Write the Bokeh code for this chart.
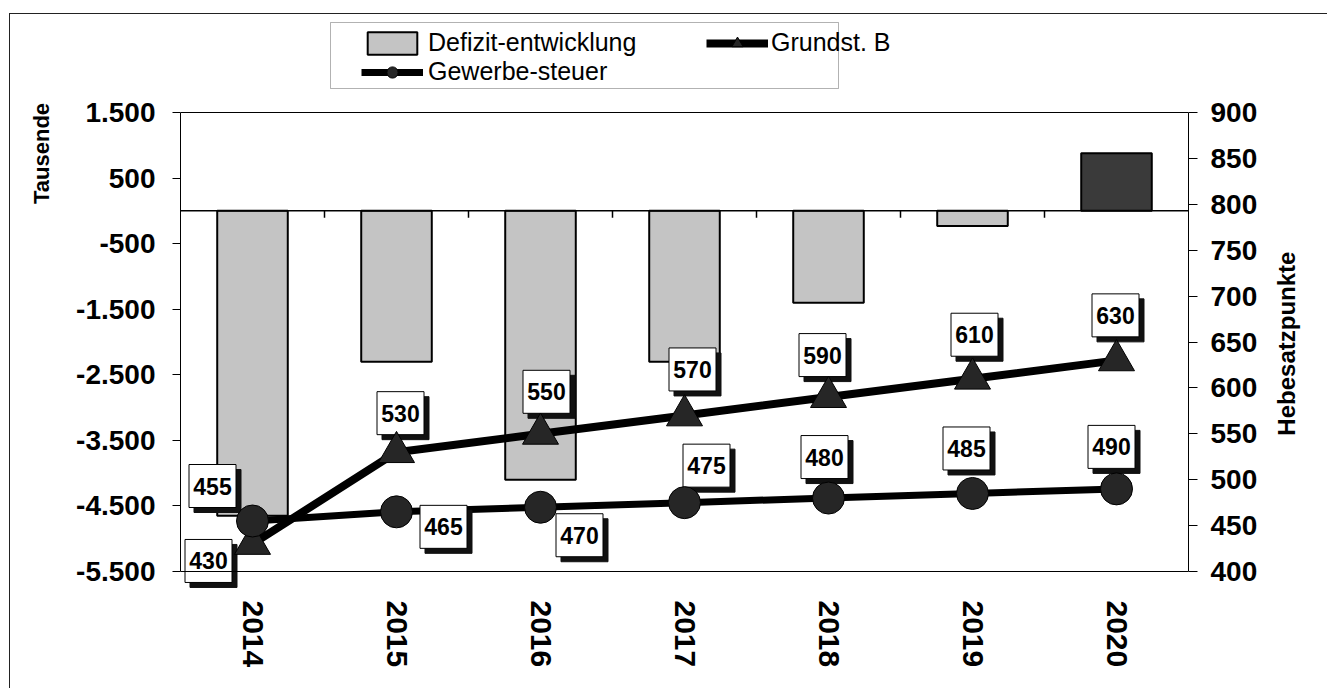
import math
from bokeh.plotting import figure
from bokeh.models import (Range1d, LinearAxis, FixedTicker, ColumnDataSource, LabelSet,
                          Legend, LegendItem, BoxAnnotation, Span)
from bokeh.core.properties import value
from bokeh.embed import file_html
from bokeh.resources import INLINE

# ---------------- data ----------------
years = ["2014", "2015", "2016", "2017", "2018", "2019", "2020"]
defizit = [-4650, -2300, -4100, -2300, -1400, -230, 880]
gewerbesteuer = [455, 465, 470, 475, 480, 485, 490]
grundsteuer_b = [430, 530, 550, 570, 590, 610, 630]
left_ticks = [-5500, -4500, -3500, -2500, -1500, -500, 500, 1500]
right_ticks = [400, 450, 500, 550, 600, 650, 700, 750, 800, 850, 900]

# ---------------- styles / geometry (page pixels) ----------------
FONT = "Liberation Sans"
OX, OY = 10, 14                 # canvas origin on page (after outer frame)
W, H = 1318, 675
FL, FR = 180, 1188              # plot area left/right (axes)
PT, PB = 112, 571               # plot area top/bottom
FTOP, FBOT = 16, 592            # drawing frame top/bottom
LMIN, LMAX = -5500, 1500
RMIN, RMAX = 400, 900
N = len(years)
PX_X = (FR - FL) / N
PX_L = (PB - PT) / (LMAX - LMIN)
PX_R = (PB - PT) / (RMAX - RMIN)

def px_x(page_x):
    return (page_x - FL) / PX_X

def py_left(page_y):
    return LMAX - (page_y - PT) / PX_L

def py_right(page_y):
    return RMAX - (page_y - PT) / PX_R

# label offsets in pixels (x right, y down)
gew_dx = [-40, 47, 39, 22, -4, -6, -5]
gew_dy = [-35, 15, 28, -37, -41, -45, -42]
grd_dx = [-44, 4, 6, 8, -6, 2, -1]
grd_dy = [17, -39, -42, -46, -42, -44, -45]
BOX_W, BOX_H = 47, 43
SHADOW = 5

def de_fmt(v):
    s = f"{abs(v):,}".replace(",", ".")
    return ("-" if v < 0 else "") + s

xs = [i + 0.5 for i in range(N)]

mb_left = FL - OX
mb_top = FTOP - OY
mb_right = W - mb_left - (FR - FL)
mb_bottom = H - mb_top - (FBOT - FTOP)

p = figure(width=W, height=H, x_range=Range1d(0, N),
           y_range=Range1d(py_left(FBOT), py_left(FTOP)),
           output_backend="svg", toolbar_location=None,
           min_border_left=mb_left, min_border_right=mb_right,
           min_border_top=mb_top, min_border_bottom=mb_bottom,
           background_fill_color="white", border_fill_color="white",
           outline_line_color=None)
p.title.visible = False
p.margin = (OY - 1, 0, 0, OX - 1)
p.styles = {"border-top": "1px solid #222222", "border-left": "1px solid #222222"}
p.extra_y_ranges = {"right": Range1d(py_right(FBOT), py_right(FTOP))}
p.xgrid.visible = False
p.ygrid.visible = False

def style_axis(ax, size):
    ax.major_label_text_font = FONT
    ax.major_label_text_font_size = size
    ax.major_label_text_font_style = "bold"
    ax.major_label_text_color = "black"
    ax.minor_tick_out = 0
    ax.minor_tick_in = 0
    ax.major_tick_in = 0

# left axis
ya = p.yaxis[0]
ya.ticker = FixedTicker(ticks=left_ticks)
ya.major_label_overrides = {t: de_fmt(t) for t in left_ticks}
style_axis(ya, "28px")
ya.major_tick_out = 8
ya.major_label_standoff = 17
ya.axis_line_color = "black"
ya.bounds = (LMIN, LMAX)

# left title as outer axis label
ta = LinearAxis(ticker=FixedTicker(ticks=[875]), major_label_overrides={875: "Tausende"})
style_axis(ta, "22px")
ta.major_label_orientation = "vertical"
ta.major_tick_out = 0
ta.major_label_standoff = 19
ta.axis_line_color = None
p.add_layout(ta, "left")

# right axis
ra = LinearAxis(y_range_name="right", ticker=FixedTicker(ticks=right_ticks))
style_axis(ra, "28px")
ra.major_tick_out = 9
ra.major_label_standoff = 13
ra.bounds = (RMIN, RMAX)
p.add_layout(ra, "right")

# right title as outer axis label (text starts at the tick, reads upward)
hb = LinearAxis(y_range_name="right", ticker=FixedTicker(ticks=[548]),
                major_label_overrides={548: "Hebesatzpunkte"})
style_axis(hb, "24px")
hb.major_label_orientation = math.pi / 2
hb.major_tick_out = 0
hb.major_label_standoff = 26
hb.axis_line_color = None
p.add_layout(hb, "right")

# bottom axis (years)
xa = p.xaxis[0]
xa.ticker = FixedTicker(ticks=xs)
xa.major_label_overrides = {x: y for x, y in zip(xs, years)}
xa.major_label_orientation = "vertical"
style_axis(xa, "30px")
xa.major_label_standoff = 600 - FBOT
xa.major_tick_out = 0
xa.axis_line_color = None

# plot area top / bottom border
p.add_layout(Span(location=LMAX, dimension="width", line_color="black", line_width=1))
p.add_layout(Span(location=LMIN, dimension="width", line_color="black", line_width=1))

# bars
colors = ["#c4c4c4" if v < 0 else "#3a3a3a" for v in defizit]
bsrc = ColumnDataSource(dict(x=xs, top=defizit, color=colors))
bars = p.vbar(x="x", top="top", bottom=0, width=0.49, fill_color="color",
              line_color="black", line_width=2, source=bsrc)

# zero line with category ticks
p.add_layout(Span(location=0, dimension="width", line_color="black", line_width=1.5))
bounds = list(range(1, N))
p.segment(x0=bounds, y0=[0] * len(bounds), x1=bounds, y1=[-7 / PX_L] * len(bounds),
          line_color="black", line_width=1.5)

# lines
grd_line = p.line(xs, grundsteuer_b, y_range_name="right", line_color="black", line_width=8)
gew_line = p.line(xs, gewerbesteuer, y_range_name="right", line_color="black", line_width=7)

# data labels (shadow + white box + text)
def add_labels(vals, dx, dy):
    lx = [x + d / PX_X for x, d in zip(xs, dx)]
    ly = [v - d / PX_R for v, d in zip(vals, dy)]
    sx = [x + SHADOW / PX_X for x in lx]
    sy = [y - SHADOW / PX_R for y in ly]
    p.rect(x=sx, y=sy, width=BOX_W, height=BOX_H, width_units="screen", height_units="screen",
           fill_color="#111111", line_color="#111111", y_range_name="right")
    p.rect(x=lx, y=ly, width=BOX_W, height=BOX_H, width_units="screen", height_units="screen",
           fill_color="white", line_color="black", line_width=1, y_range_name="right")
    src = ColumnDataSource(dict(x=lx, y=ly, t=[str(v) for v in vals]))
    p.add_layout(LabelSet(x="x", y="y", text="t", source=src, y_range_name="right",
                          text_align="center", text_baseline="middle",
                          text_font=value(FONT), text_font_size=value("23px"),
                          text_font_style="bold", text_color="black"))

add_labels(gewerbesteuer, gew_dx, gew_dy)
add_labels(grundsteuer_b, grd_dx, grd_dy)

# markers
grd_mark = p.scatter(xs, grundsteuer_b, marker="triangle", size=36, y_range_name="right",
                     fill_color="#262626", line_color="black", line_width=1)
gew_mark = p.scatter(xs, gewerbesteuer, marker="circle", size=32, y_range_name="right",
                     fill_color="#262626", line_color="black", line_width=1)

# legend box
p.add_layout(BoxAnnotation(left=px_x(330), right=px_x(838), top=py_left(22), bottom=py_left(88),
                           fill_color="white", fill_alpha=1, line_color="black", line_width=1))

# legends
leg_style = dict(orientation="vertical", label_text_font=FONT, label_text_font_size="25px",
                 label_text_color="black", label_text_baseline="middle",
                 glyph_width=62, glyph_height=28, label_height=26, spacing=0, padding=2,
                 margin=0, background_fill_alpha=0, border_line_color=None)
legA = Legend(items=[LegendItem(label="Defizit-entwicklung", renderers=[bars]),
                     LegendItem(label="Gewerbe-steuer", renderers=[gew_line, gew_mark])],
              location=(361 - FL, FBOT - 86), label_standoff=5, **leg_style)
legB = Legend(items=[LegendItem(label="Grundst. B", renderers=[grd_line, grd_mark])],
              location=(706 - FL, FBOT - 57), label_standoff=3, **leg_style)
p.add_layout(legA)
p.add_layout(legB)

open("out.html", "w").write(file_html(p, INLINE))
